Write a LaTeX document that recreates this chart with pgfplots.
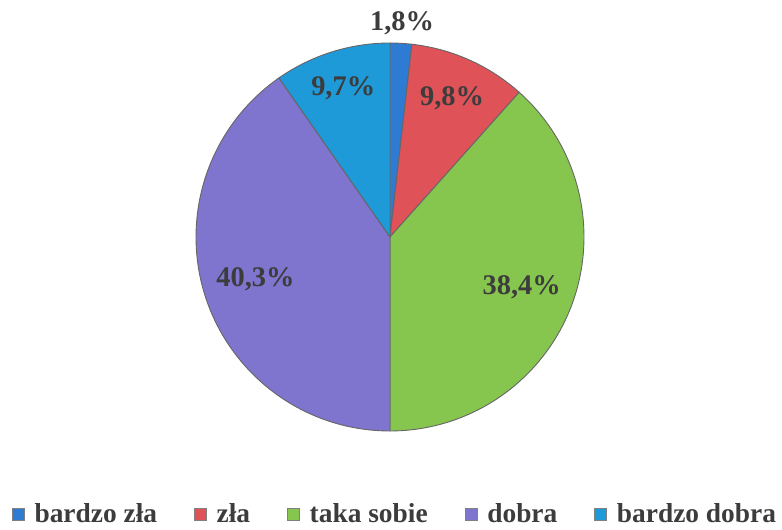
\documentclass[border=0pt]{standalone}
\usepackage{fontspec}
\setmainfont{Liberation Serif}
\usepackage{pgfplots}
\usepackage{pgfplotstable}
\pgfplotsset{compat=1.18}
\definecolor{cA}{HTML}{2E7BD3}
\definecolor{cB}{HTML}{DE5258}
\definecolor{cC}{HTML}{86C64E}
\definecolor{cD}{HTML}{7F74CE}
\definecolor{cE}{HTML}{1E9AD8}
\definecolor{lab}{HTML}{3C3C3C}
\pgfplotstableread[col sep=comma]{
label,value,color,lr
bardzo zła,1.8,cA,214
zła,9.8,cB,152
taka sobie,38.4,cC,141
dobra,40.3,cD,141
bardzo dobra,9.7,cE,156
}\piedata
\begin{document}
\begin{tikzpicture}
\begin{axis}[
  x=0.5pt, y=0.5pt,
  xmin=0, xmax=782, ymin=0, ymax=530,
  hide axis, clip=false,
  legend columns=5,
  legend style={at={(0.5064,0.03)}, anchor=center, draw=none, fill=none, inner sep=0pt,
    font=\bfseries\fontsize{13.7}{16}\selectfont, text=lab,
    /tikz/every even column/.append style={column sep=16.5pt},
    /tikz/every odd column/.append style={column sep=3pt}},
  legend image code/.code={\fill[#1,draw=black!50,line width=0.3pt] (0pt,-3pt) rectangle (6pt,3pt);},
]
\addlegendimage{fill=cA}\addlegendentry{bardzo zła}
\addlegendimage{fill=cB}\addlegendentry{zła}
\addlegendimage{fill=cC}\addlegendentry{taka sobie}
\addlegendimage{fill=cD}\addlegendentry{dobra}
\addlegendimage{fill=cE}\addlegendentry{bardzo dobra}
\pgfplotsextra{
  \path (axis cs:0,0) rectangle (axis cs:782,530);
  \pgfplotstablegetrowsof{\piedata}
  \pgfmathtruncatemacro{\N}{\pgfplotsretval-1}
  \gdef\cum{0}
  \foreach \i in {0,...,\N} {
    \pgfplotstablegetelem{\i}{value}\of{\piedata}\let\val\pgfplotsretval
    \pgfplotstablegetelem{\i}{color}\of{\piedata}\let\col\pgfplotsretval
    \pgfplotstablegetelem{\i}{lr}\of{\piedata}\let\lrad\pgfplotsretval
    \pgfmathsetmacro{\sa}{90-3.6*\cum}
    \pgfmathsetmacro{\sb}{90-3.6*(\cum+\val)}
    \pgfmathsetmacro{\mid}{(\sa+\sb)/2}
    \pgfmathsetmacro{\lrpt}{0.5*\lrad}
    \filldraw[fill=\col, draw=black!60, line width=0.45pt]
      (axis cs:390,293) -- ++(\sa:97pt) arc[start angle=\sa, end angle=\sb, radius=97pt] -- cycle;
    \path (axis cs:390,293) ++(\mid:\lrpt pt) node[text=lab, font=\bfseries\fontsize{14.2}{16}\selectfont]
      {\pgfmathprintnumber[fixed, fixed zerofill, precision=1, use comma, assume math mode=true]{\val}\%};
    \pgfmathsetmacro{\newcum}{\cum+\val}
    \xdef\cum{\newcum}
  }
}
\end{axis}
\end{tikzpicture}
\end{document}
